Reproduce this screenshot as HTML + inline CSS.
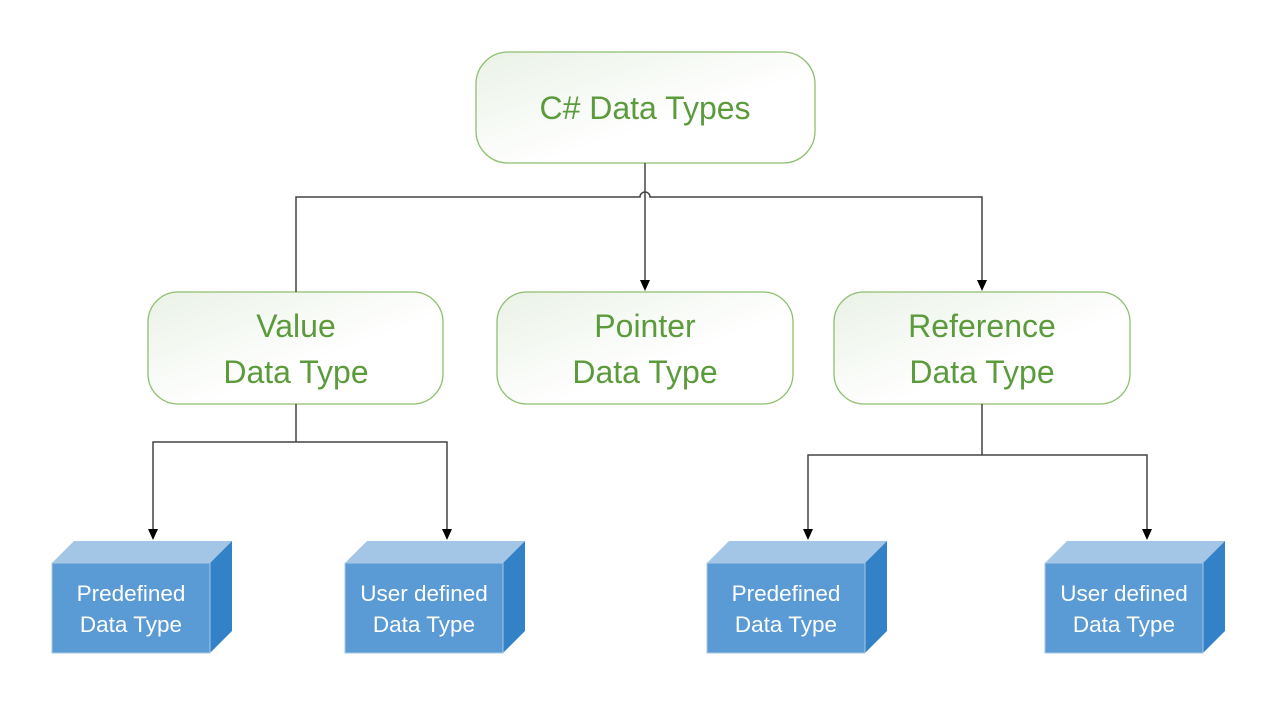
<!DOCTYPE html>
<html><head><meta charset="utf-8"><style>
html,body{margin:0;padding:0;background:#fff}
svg{display:block}
.g{font-family:"Liberation Sans",sans-serif;font-size:32px;fill:#5b9b3c;text-anchor:middle}
.w{font-family:"Liberation Sans",sans-serif;font-size:22.5px;fill:#fff;text-anchor:middle}
</style></head><body>
<svg width="1280" height="720" viewBox="0 0 1280 720" xmlns="http://www.w3.org/2000/svg">
<defs>
<linearGradient id="gg" x1="0" y1="0" x2="1" y2="1">
<stop offset="0" stop-color="#eaf2e6"/><stop offset="0.6" stop-color="#fff"/></linearGradient>
</defs>
<g stroke="#8dbf6e" stroke-width="1.3" fill="url(#gg)">
<rect x="476" y="52" width="339" height="111" rx="32"/>
<rect x="148" y="292" width="295" height="112" rx="30"/>
<rect x="497" y="292" width="296" height="112" rx="30"/>
<rect x="834" y="292" width="296" height="112" rx="30"/>
</g>
<text class="g" x="645" y="119">C# Data Types</text>
<text class="g" x="296" y="337">Value</text><text class="g" x="296" y="383">Data Type</text>
<text class="g" x="645" y="337">Pointer</text><text class="g" x="645" y="383">Data Type</text>
<text class="g" x="982" y="337">Reference</text><text class="g" x="982" y="383">Data Type</text>
<g stroke="#444" stroke-width="1.5" fill="none">
<path d="M645,163 V197"/>
<path d="M296,292 V197 H640 A5,5 0 0 1 650,197 H982 V282"/>
<path d="M645,197 V282"/>
<path d="M296,404 V442 M153,531 V442 H447 V531"/>
<path d="M982,404 V455 M808,531 V455 H1147 V531"/>
</g>
<g fill="#000">
<path d="M640,280 L650,280 L645,291 Z"/>
<path d="M977,280 L987,280 L982,291 Z"/>
<path d="M148,529 L158,529 L153,540 Z"/>
<path d="M442,529 L452,529 L447,540 Z"/>
<path d="M803,529 L813,529 L808,540 Z"/>
<path d="M1142,529 L1152,529 L1147,540 Z"/>
</g>
<g>
<g id="b1">
<polygon points="52,563 74,541 232,541 210,563" fill="#a3c6e7"/>
<polygon points="210,563 232,541 232,631 210,653" fill="#3381c6"/>
<rect x="52" y="563" width="158" height="90" fill="#5b9bd5" stroke="#a9c7e4" stroke-width="1"/>
</g>
<use href="#b1" x="293"/><use href="#b1" x="655"/><use href="#b1" x="993"/>
</g>
<text class="w" x="131" y="601">Predefined</text><text class="w" x="131" y="632">Data Type</text>
<text class="w" x="424" y="601">User defined</text><text class="w" x="424" y="632">Data Type</text>
<text class="w" x="786" y="601">Predefined</text><text class="w" x="786" y="632">Data Type</text>
<text class="w" x="1124" y="601">User defined</text><text class="w" x="1124" y="632">Data Type</text>
</svg>
</body></html>
